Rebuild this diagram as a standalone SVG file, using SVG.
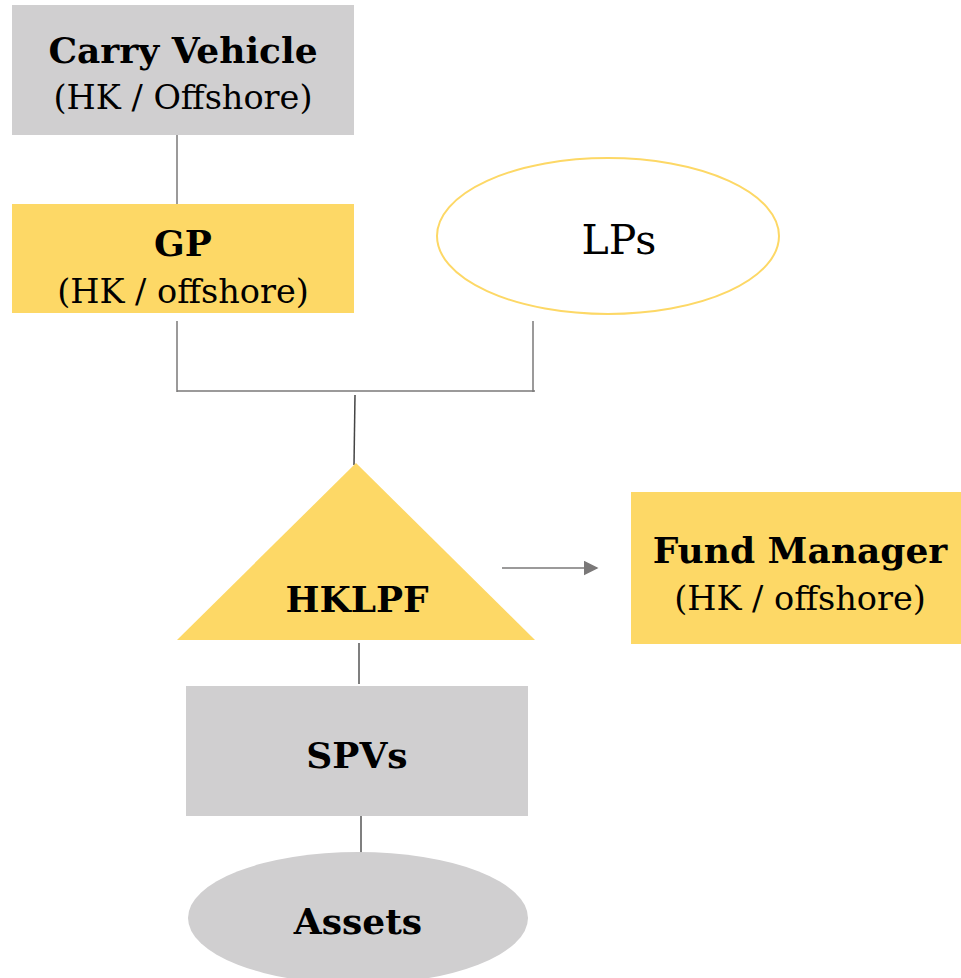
<svg xmlns="http://www.w3.org/2000/svg" width="961" height="978" viewBox="0 0 961 978">
  <style>
    .gray { fill: #d0cfd0; }
    .yellow { fill: #fdd866; }
    .title { font-family: "DejaVu Serif", "Liberation Serif", serif; font-weight: bold; font-size: 36px; fill: #000; text-anchor: middle; }
    .sub { font-family: "DejaVu Serif", "Liberation Serif", serif; font-size: 33.5px; fill: #000; text-anchor: middle; }
    .link { stroke: #7a7878; stroke-width: 1.5; fill: none; }
  </style>
  <defs>
    <marker id="arrow" viewBox="0 0 10 10" refX="9" refY="5" markerWidth="15" markerHeight="15" markerUnits="userSpaceOnUse" orient="auto">
      <path d="M0,0 L10,5 L0,10 z" fill="#7a7878"/>
    </marker>
  </defs>

  <g id="connectors">
    <line class="link" x1="177" y1="135" x2="177" y2="204"/>
    <line class="link" x1="177" y1="321" x2="177" y2="392"/>
    <line class="link" x1="533" y1="321" x2="533" y2="392"/>
    <line class="link" x1="177" y1="391" x2="535" y2="391"/>
    <line class="link" x1="355" y1="395" x2="354" y2="465" style="stroke:#444"/>
    <line class="link" x1="502" y1="568" x2="597" y2="568" marker-end="url(#arrow)"/>
    <line class="link" x1="359" y1="643" x2="359" y2="684" style="stroke:#555"/>
    <line class="link" x1="361" y1="815" x2="361" y2="853" style="stroke:#555"/>
  </g>

  <g id="carry-vehicle">
    <rect class="gray" x="12" y="5" width="342" height="130"/>
    <text class="title" x="183" y="63">Carry Vehicle</text>
    <text class="sub" x="183" y="109">(HK / Offshore)</text>
  </g>

  <g id="gp">
    <rect class="yellow" x="12" y="204" width="342" height="109"/>
    <text class="title" x="183" y="256">GP</text>
    <text class="sub" x="183" y="303">(HK / offshore)</text>
  </g>

  <g id="lps">
    <ellipse cx="608" cy="236" rx="171" ry="78" fill="#fff" stroke="#fdd866" stroke-width="2"/>
    <text class="sub" x="619" y="254" style="font-size:41px">LPs</text>
  </g>

  <g id="hklpf">
    <polygon class="yellow" points="356,463 535,640 177,640"/>
    <text class="title" x="357" y="612">HKLPF</text>
  </g>

  <g id="fund-manager">
    <rect class="yellow" x="631" y="492" width="330" height="152"/>
    <text class="title" x="800" y="563">Fund Manager</text>
    <text class="sub" x="800" y="610">(HK / offshore)</text>
  </g>

  <g id="spvs">
    <rect class="gray" x="186" y="686" width="342" height="130"/>
    <text class="title" x="357" y="768">SPVs</text>
  </g>

  <g id="assets">
    <ellipse class="gray" cx="358" cy="918" rx="170" ry="66"/>
    <text class="title" x="358" y="934">Assets</text>
  </g>
</svg>
